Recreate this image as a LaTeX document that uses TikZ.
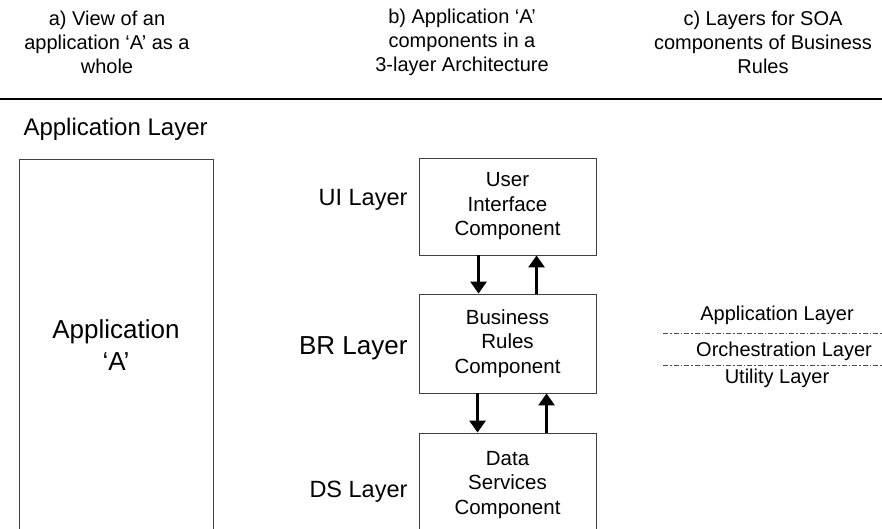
\documentclass[tikz,border=0pt]{standalone}
\usepackage{fontspec}
\setmainfont{Liberation Sans}
\usepackage{tikz}
\usetikzlibrary{arrows.meta,positioning,calc}
\newcommand\titlefont{\fontsize{20}{24}\selectfont}
\newcommand\boxfont{\fontsize{20.5}{24.5}\selectfont}
\tikzset{
  comp/.style = {draw = black!75, line width = 0.9pt, minimum width = 177pt, align = center, font = \boxfont},
  flow/.style = {line width = 3.5pt, -{Triangle[width = 16pt, length = 12pt]}},
  lvl/.style = {anchor = east, align = right, font = \fontsize{23.5}{28}\selectfont},
  sep/.style = {draw = black!70, line width = 0.9pt, dash pattern = on 5pt off 2pt on 1.5pt off 2pt}
}
\begin{document}
\begin{tikzpicture}[x = 1pt, y = -1pt]
\useasboundingbox (0,0) rectangle (882,528);
\clip (0,0) rectangle (882,528);
\node[align = center, font = \titlefont] (ta) at (107, 42) {a) View of an\\application `A' as a\\whole};
\node[align = center, font = \titlefont] (tb) at (462, 42) {b) Application `A'\\components in a\\3-layer Architecture};
\node[align = center, font = \titlefont] (tc) at (763, 42) {c) Layers for SOA\\components of Business\\Rules};
\draw[line width = 2.5pt] (0,99) -- (882,99);
\node[anchor = west, font = \fontsize{24}{28}\selectfont] (applayer) at (20, 129) {Application Layer};
\node[draw = black!75, line width = 0.9pt, minimum width = 194pt, minimum height = 372pt, align = center, font = \fontsize{26}{32}\selectfont] (app) at (116, 345) {Application\\`A'};
\node[comp, minimum height = 97pt] (ui) at (507.5, 206.5) {User\\Interface\\Component};
\node[comp, minimum height = 99pt] (br) at (507.5, 343.5) {Business\\Rules\\Component};
\node[comp, minimum height = 104pt] (ds) at (507.5, 485) {Data\\Services\\Component};
\node[lvl] (uilvl) at (411, 200) {UI Layer};
\node[lvl, font = \fontsize{26}{30}\selectfont] (brlvl) at (411, 348) {BR Layer};
\node[lvl] (dslvl) at (411, 492) {DS Layer};
\draw[flow] ([xshift = 60pt]ui.south west) -- ([xshift = 60pt]br.north west);
\draw[flow] ([xshift = 118pt]br.north west) -- ([xshift = 118pt]ui.south west);
\draw[flow] ([xshift = 59pt]br.south west) -- ([xshift = 59pt]ds.north west);
\draw[flow] ([xshift = 128pt]ds.north west) -- ([xshift = 128pt]br.south west);
\node[font = \titlefont] (soaapp) at (777, 315) {Application Layer};
\node[font = \titlefont] (soaorch) at (784, 351) {Orchestration Layer};
\node[font = \titlefont] (soautil) at (777, 378) {Utility Layer};
\coordinate (sepa) at (663, 333);
\coordinate (sepb) at (663, 365);
\draw[sep] (sepa) -- (sepa -| 882,0);
\draw[sep] (sepb) -- (sepb -| 882,0);
\end{tikzpicture}
\end{document}
